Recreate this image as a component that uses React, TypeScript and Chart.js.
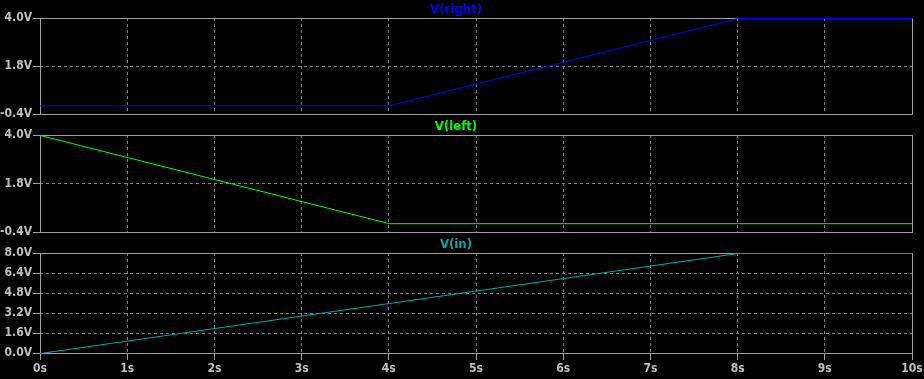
import React, { useEffect, useRef } from "react";
import { Chart, registerables } from "chart.js";

Chart.register(...registerables);

// ---- data ----
const times = [0, 4, 8, 10];
const vRight = [0, 0, 4, 4];
const vLeft = [4, 0, 0, 0];
const vIn = [0, 4, 8, 8];

const xTicks = [0, 1, 2, 3, 4, 5, 6, 7, 8, 9, 10];
const yTicksLR = [-0.4, 1.8, 4.0];
const yTicksIn = [0, 1.6, 3.2, 4.8, 6.4, 8.0];

// ---- style ----
const FONT = "'DejaVu Sans Condensed', 'DejaVu Sans', sans-serif";
const LABEL = "#c0c0c0";
const BORDER = "#a0a0a0";
const GRID = "#808080";
const BG = "#000000";

type Pane = {
  title: string;
  color: string;
  data: number[];
  yTicks: number[];
  yMin: number;
  yMax: number;
  top: number;
  height: number;
  padBottom: number;
  showX: boolean;
};

const panes: Pane[] = [
  { title: "V(right)", color: "#0000ff", data: vRight, yTicks: yTicksLR, yMin: -0.4, yMax: 4.0, top: 0, height: 124, padBottom: 10, showX: false },
  { title: "V(left)", color: "#00ff00", data: vLeft, yTicks: yTicksLR, yMin: -0.4, yMax: 4.0, top: 117, height: 125, padBottom: 10, showX: false },
  { title: "V(in)", color: "#00aaaa", data: vIn, yTicks: yTicksIn, yMin: 0, yMax: 8.0, top: 235, height: 144, padBottom: 0, showX: true },
];

const framePlugin = {
  id: "frame",
  beforeDatasetsDraw(chart: any) {
    const { ctx, chartArea: a } = chart;
    ctx.save();
    ctx.strokeStyle = BORDER;
    ctx.lineWidth = 1;
    ctx.setLineDash([]);
    ctx.strokeRect(a.left + 0.5, a.top + 0.5, a.right - a.left, a.bottom - a.top);
    ctx.restore();
    ctx.save();
    ctx.translate(0.5, 0.5);
  },
  afterDatasetsDraw(chart: any) {
    chart.ctx.restore();
  },
};

function PaneChart({ pane }: { pane: Pane }) {
  const ref = useRef<HTMLCanvasElement | null>(null);
  useEffect(() => {
    if (!ref.current) return;
    const font = { family: FONT, size: 12, weight: "bold" as const };
    const chart = new Chart(ref.current, {
      type: "line",
      data: {
        datasets: [
          {
            data: times.map((t, i) => ({ x: t, y: pane.data[i] })),
            borderColor: pane.color,
            borderWidth: 1,
            pointRadius: 0,
            tension: 0,
            fill: false,
            clip: 4,
          },
        ],
      },
      options: {
        responsive: false,
        animation: false,
        devicePixelRatio: 1,
        events: [],
        layout: { padding: { left: 0, right: 12, top: 0, bottom: pane.padBottom } },
        plugins: {
          legend: { display: false },
          tooltip: { enabled: false },
          title: {
            display: true,
            text: pane.title,
            color: pane.color,
            font: { family: FONT, size: 13, weight: "bold", lineHeight: "16px" } as any,
            padding: { top: 2, bottom: 0 },
          },
        },
        scales: {
          x: {
            type: "linear",
            min: 0,
            max: 10,
            afterBuildTicks: (s: any) => {
              s.ticks = xTicks.map((v) => ({ value: v }));
            },
            afterFit: (s: any) => {
              s.height = pane.showX ? 26 : 0;
              s.paddingLeft = 0;
              s.paddingRight = 0;
            },
            grid: {
              color: GRID,
              lineWidth: 1,
              drawTicks: pane.showX,
              tickLength: 7,
              tickColor: BORDER,
              tickWidth: 1,
            },
            border: { display: false, dash: [3, 3] },
            ticks: {
              display: pane.showX,
              color: LABEL,
              font,
              padding: 2,
              maxRotation: 0,
              autoSkip: false,
              callback: (v: any) => `${v}s`,
            },
          },
          y: {
            type: "linear",
            min: pane.yMin,
            max: pane.yMax,
            afterBuildTicks: (s: any) => {
              s.ticks = pane.yTicks.map((v) => ({ value: v }));
            },
            afterFit: (s: any) => {
              s.width = 40;
              s.paddingTop = 0;
              s.paddingBottom = 0;
            },
            grid: {
              color: GRID,
              lineWidth: 1,
              drawTicks: true,
              tickLength: 7,
              tickColor: BORDER,
              tickWidth: 1,
            },
            border: { display: false, dash: [3, 3] },
            ticks: {
              color: LABEL,
              font,
              padding: 1,
              autoSkip: false,
              callback: (v: any) => `${Number(v).toFixed(1)}V`,
            },
          },
        },
      },
      plugins: [framePlugin],
    });
    return () => chart.destroy();
  }, [pane]);
  return (
    <canvas
      ref={ref}
      width={924}
      height={pane.height}
      style={{ position: "absolute", left: 0, top: pane.top, width: 924, height: pane.height }}
    />
  );
}

export default function App() {
  return (
    <div style={{ position: "fixed", left: 0, top: 0, width: 924, height: 379, background: BG, overflow: "hidden" }}>
      {panes.map((p) => (
        <PaneChart key={p.title} pane={p} />
      ))}
    </div>
  );
}
